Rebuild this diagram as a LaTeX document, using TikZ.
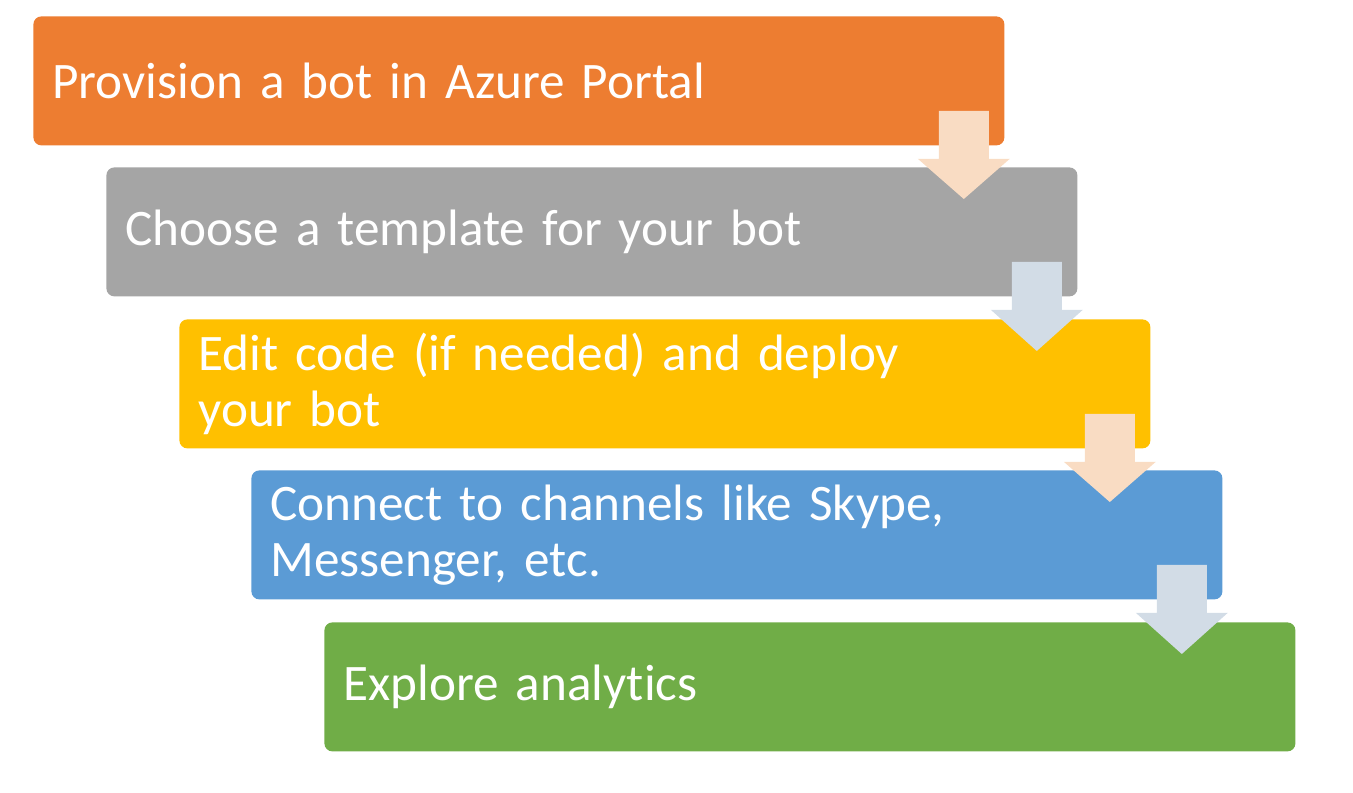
\documentclass[tikz,border=0pt]{standalone}
\usepackage{fontspec}
\setmainfont{Carlito}[Ligatures=NoCommon]
\usetikzlibrary{calc}

\definecolor{steporange}{HTML}{ED7D31}
\definecolor{stepgray}{HTML}{A5A5A5}
\definecolor{stepgold}{HTML}{FFC000}
\definecolor{stepblue}{HTML}{5B9BD5}
\definecolor{stepgreen}{HTML}{70AD47}
\definecolor{arrowpeach}{HTML}{F9DCC3}
\definecolor{arrowsteel}{HTML}{D2DCE6}

\tikzset{
  stepbox/.style={fill=#1, rounded corners=4pt, anchor=north west,
    text width=466.5pt, inner xsep=9.5pt, inner ysep=0pt,
    minimum height=64.5pt, align=left, text=white,
    font=\fontsize{25.6}{28}\selectfont},
}

\begin{document}
\begin{tikzpicture}[x=0.5pt,y=-0.5pt]
\useasboundingbox (0,0) rectangle (1353,792);

% the five steps
\node[stepbox=steporange] (b1) at (33,16) {Provision a bot in Azure Portal};
\node[stepbox=stepgray] (b2) at (106,167) {Choose a template for your bot};
\node[stepbox=stepgold] (b3) at (179,319) {Edit code (if needed) and deploy\\your bot};
\node[stepbox=stepblue] (b4) at (251,470) {Connect to channels like Skype,\\Messenger, etc.};
\node[stepbox=stepgreen] (b5) at (324,622) {Explore analytics};

% down arrows between the steps
\foreach \a/\b/\c in {b1/b2/arrowpeach, b2/b3/arrowsteel, b3/b4/arrowpeach, b4/b5/arrowsteel}
{
  \path ($(\a.south east)+(-41,0)$) coordinate (m);
  \fill[\c] ($(m)+(-25,-35)$) -- ($(m)+(25,-35)$) -- ($(m)+(25,13)$)
    -- ($(m)+(46,13)$) -- ($(m |- \b.north)+(0,32)$) -- ($(m)+(-46,13)$)
    -- ($(m)+(-25,13)$) -- cycle;
}
\end{tikzpicture}
\end{document}
